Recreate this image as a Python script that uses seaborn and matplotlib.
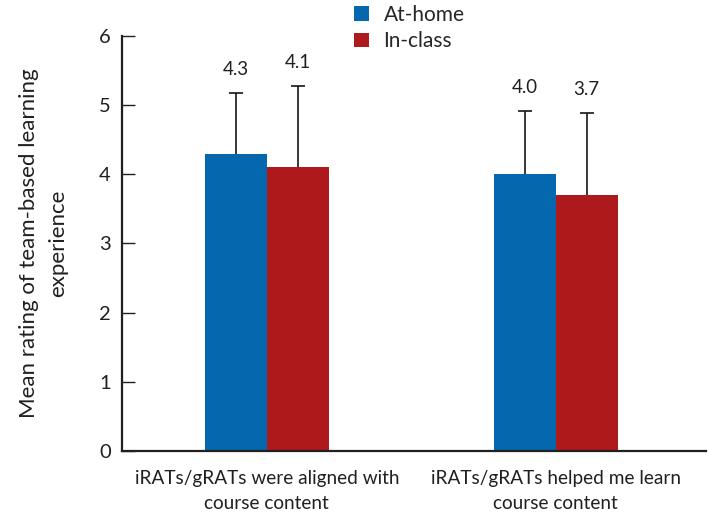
import pandas as pd
import numpy as np
import matplotlib
matplotlib.use("Agg")
import matplotlib.pyplot as plt
import seaborn as sns

# data
items = ["iRATs/gRATs were aligned with\ncourse content",
         "iRATs/gRATs helped me learn\ncourse content"]
modes = ["At-home", "In-class"]
mean_home = [4.3, 4.0]
mean_class = [4.1, 3.7]
sd_home = [0.88, 0.91]
sd_class = [1.18, 1.19]

df = pd.DataFrame({
    "item": items * 2,
    "mode": [modes[0]] * 2 + [modes[1]] * 2,
    "mean": mean_home + mean_class,
})
sds = {modes[0]: sd_home, modes[1]: sd_class}
colors = {"At-home": "#0568ae", "In-class": "#ae1a1c"}

sns.set_style("ticks")
plt.rcParams["font.family"] = ["Lato", "DejaVu Sans"]
txt = "#231f20"

fig = plt.figure(figsize=(7.08, 5.26), dpi=100)
ax = fig.add_axes([0.172, 0.1426, 0.825, 0.789])

sns.barplot(data=df, x="item", y="mean", hue="mode", palette=colors,
            width=0.43, saturation=1, errorbar=None, linewidth=0,
            ax=ax, zorder=2)

# upper error bars only (whisker + cap) and value labels
cap = 0.024
for cont, mode in zip(ax.containers, modes):
    for bar, sd in zip(cont, sds[mode]):
        xc = bar.get_x() + bar.get_width() / 2
        h = bar.get_height()
        ax.vlines(xc, h, h + sd, color="#1a1414", lw=1.2, zorder=1)
        ax.hlines(h + sd, xc - cap, xc + cap, color="#1a1414", lw=1.2, zorder=1)
        ax.text(xc, h + sd + 0.34, f"{h:.1f}", ha="center", va="center",
                fontsize=13.5, color=txt)

ax.set_ylim(0, 6)
ax.set_xlim(-0.502, 1.52)
ax.set_yticks(range(0, 7))
ax.tick_params(axis="y", direction="in", length=9, width=1, labelsize=14.5,
               colors=txt, pad=8)
ax.tick_params(axis="x", length=0, labelsize=13.7, colors=txt, pad=14)
for lab in ax.get_xticklabels():
    lab.set_linespacing(1.55)
ax.set_xlabel("")
ax.set_ylabel("Mean rating of team-based learning\nexperience", fontsize=16,
              color=txt, labelpad=22, linespacing=1.6)
sns.despine(ax=ax)
for s in ["left", "bottom"]:
    ax.spines[s].set_linewidth(1.6)
    ax.spines[s].set_color(txt)

handles, labels = ax.get_legend_handles_labels()
ax.legend(handles, labels, loc="upper left", bbox_to_anchor=(0.474, 1.026),
          bbox_transform=fig.transFigure, frameon=False, fontsize=15,
          handlelength=0.7, handleheight=0.7, handletextpad=0.7,
          labelspacing=0.3)

fig.savefig("out.png", dpi=100)
